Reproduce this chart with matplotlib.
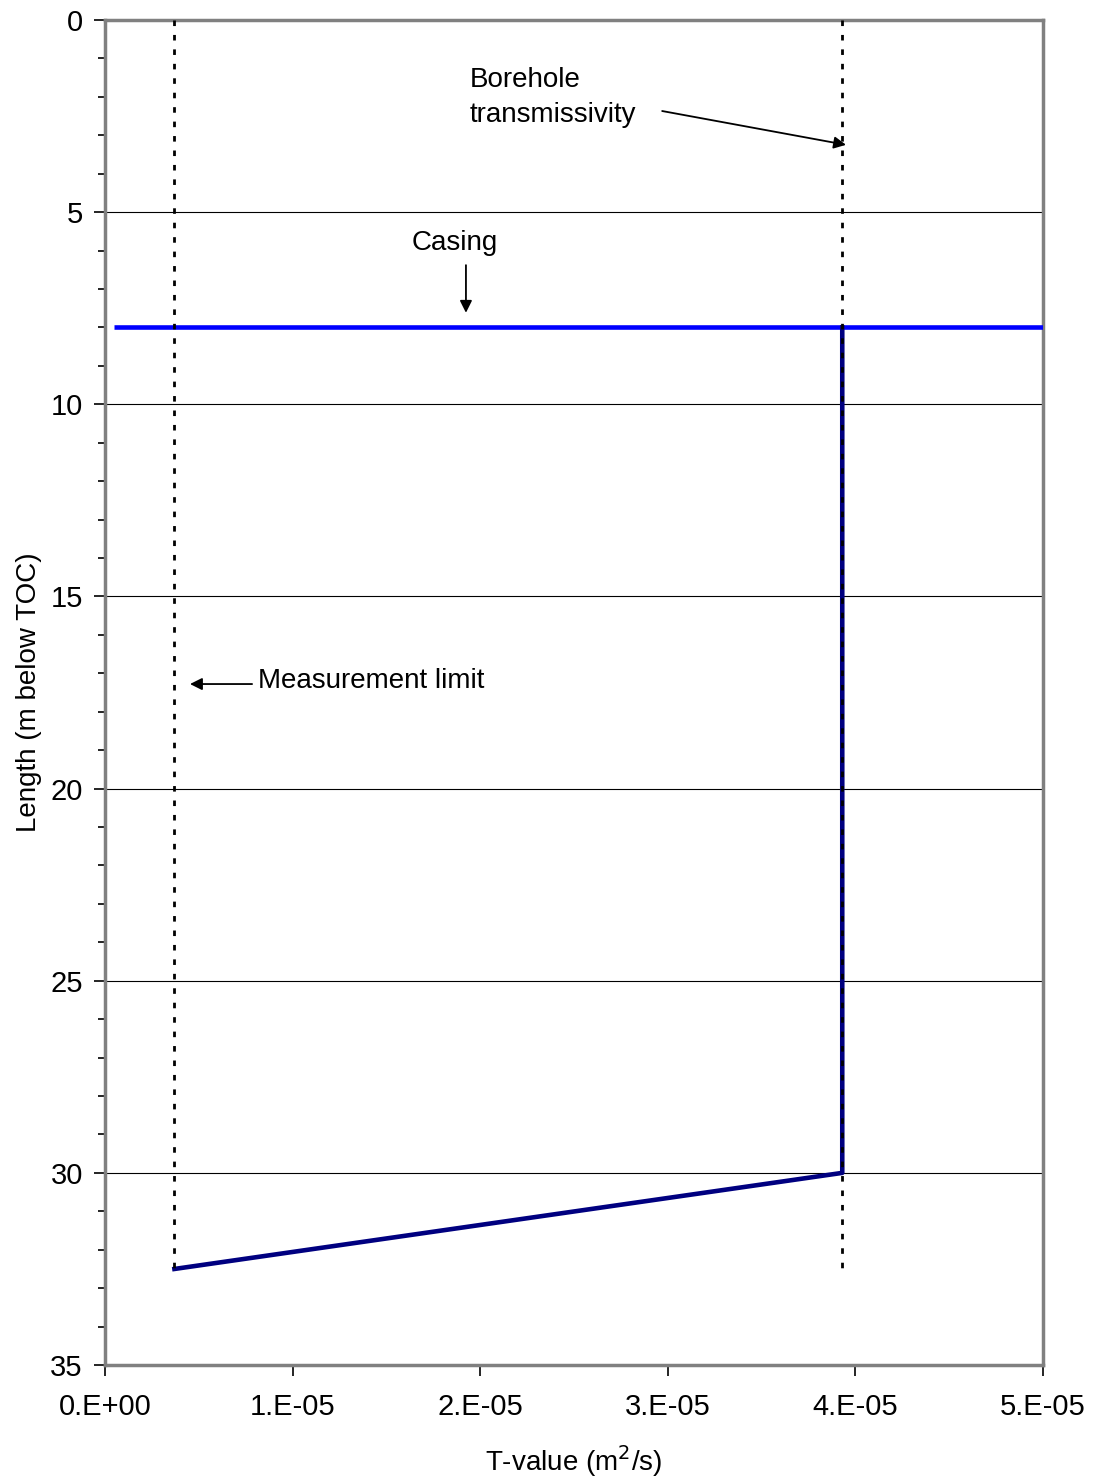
import matplotlib.pyplot as plt
import numpy as np

plt.rcParams['font.family'] = ['Liberation Sans', 'DejaVu Sans']

# borehole transmissivity profile
t_value = [3.93e-5, 3.93e-5, 3.7e-6]
depth = [8.0, 30.0, 32.5]

# measurement limit and borehole T (dotted)
meas_limit_x = [3.7e-6, 3.7e-6]
meas_limit_y = [0.0, 32.5]
bh_t_x = [3.93e-5, 3.93e-5]
bh_t_y = [0.0, 32.5]

# casing
casing_x = [5e-7, 5e-5]
casing_y = [8.0, 8.0]

xticks = [0, 1e-5, 2e-5, 3e-5, 4e-5, 5e-5]
xticklabels = ['0.E+00', '1.E-05', '2.E-05', '3.E-05', '4.E-05', '5.E-05']
yticks = [0, 5, 10, 15, 20, 25, 30, 35]

fig = plt.figure(figsize=(10.95, 14.77), dpi=100)
ax = fig.add_axes([0.0959, 0.0758, 0.8566, 0.9107])

for y in yticks[1:-1]:
    ax.axhline(y, color='black', lw=0.8, zorder=1)

ax.plot(casing_x, casing_y, color='#0000FF', lw=3.3, zorder=3, solid_capstyle='butt')
ax.plot(t_value, depth, color='#000080', lw=3.3, zorder=3)
ax.plot(meas_limit_x, meas_limit_y, color='black', lw=2, dashes=(2, 3.2), zorder=4)
ax.plot(bh_t_x, bh_t_y, color='black', lw=2, dashes=(2, 3.2), zorder=4)

arrow = dict(arrowstyle='-|>', color='black', lw=1.3, mutation_scale=18, shrinkA=0, shrinkB=0)
ax.annotate('', xy=(3.95e-5, 3.25), xytext=(2.97e-5, 2.37), arrowprops=arrow)
ax.text(1.946e-5, 2.03, 'Borehole\ntransmissivity', fontsize=20, va='center', ha='left',
        linespacing=1.45)
ax.annotate('', xy=(1.924e-5, 7.62), xytext=(1.924e-5, 6.38), arrowprops=arrow)
ax.text(1.866e-5, 5.8, 'Casing', fontsize=20, ha='center', va='center')
ax.annotate('', xy=(0.453e-5, 17.28), xytext=(0.784e-5, 17.28), arrowprops=arrow)
ax.text(0.816e-5, 17.2, 'Measurement limit', fontsize=20, ha='left', va='center')

ax.set_xlim(0, 5e-5)
ax.set_ylim(35, 0)
ax.set_xticks(xticks)
ax.set_xticklabels(xticklabels)
ax.set_yticks(yticks)
ax.set_yticks(np.arange(0, 36, 1), minor=True)
ax.tick_params(axis='both', which='major', labelsize=21, length=8, width=1.2, direction='out')
ax.tick_params(axis='y', which='minor', length=5, width=1.2, direction='out')
ax.tick_params(axis='x', pad=12)
ax.tick_params(axis='y', pad=8)

for s in ax.spines.values():
    s.set_color('#808080')
    s.set_linewidth(2.5)

ax.set_xlabel('T-value (m$^2$/s)', fontsize=20, labelpad=16)
ax.set_ylabel('Length (m below TOC)', fontsize=20, labelpad=6)

fig.savefig('out.png', dpi=100)
